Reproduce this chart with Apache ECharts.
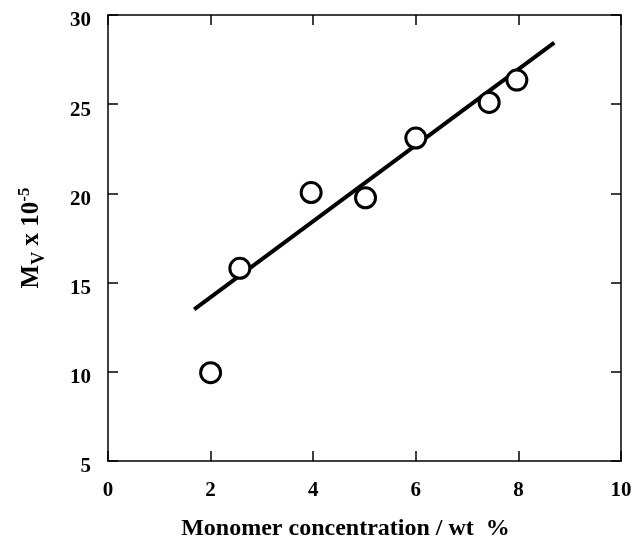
<!DOCTYPE html>
<html>
<head>
<meta charset="utf-8">
<script src="https://cdn.jsdelivr.net/npm/echarts@6/dist/echarts.min.js"></script>
<style>
	html, body { margin: 0; padding: 0; background: #fff; }
	#chart { width: 632px; height: 538px; }
</style>
</head>
<body>
<div id="chart"></div>
<script>
// 测量点 (浓度 wt%, Mv x 10^-5)
var concX = [2.0, 2.57, 3.96, 5.02, 6.0, 7.43, 7.97];
var mvY = [9.95, 15.8, 20.05, 19.75, 23.1, 25.1, 26.35];
// 拟合直线两端
var fitX = [1.68, 8.7];
var fitY = [13.5, 28.45];
// 坐标轴刻度
var xTicks = [0, 2, 4, 6, 8, 10];
var yTicks = [5, 10, 15, 20, 25, 30];

var FONT = 'Liberation Serif';

var points = concX.map(function (x, i) { return [x, mvY[i]]; });
var fitLine = fitX.map(function (x, i) { return [x, fitY[i]]; });

var chart = echarts.init(document.getElementById('chart'));

var axisLine = { show: true, onZero: false, lineStyle: { color: '#000', width: 1.5 } };
var axisTick = { show: true, inside: true, length: 10, lineStyle: { color: '#000', width: 1.5 } };

var option = {
	backgroundColor: '#fff',
	animation: false,
	grid: { left: 108, right: 11, top: 15, bottom: 77, containLabel: false, outerBoundsMode: 'none' },
	xAxis: [{
		type: 'value',
		position: 'bottom',
		min: xTicks[0],
		max: xTicks[xTicks.length - 1],
		interval: 2,
		axisLine: axisLine,
		axisTick: axisTick,
		splitLine: { show: false },
		axisLabel: {
			margin: 19,
			color: '#000',
			fontFamily: FONT,
			fontWeight: 'bold',
			fontSize: 21
		},
		name: 'Monomer concentration / wt  %',
		nameLocation: 'middle',
		nameGap: 56,
		nameTextStyle: {
			color: '#000',
			fontFamily: FONT,
			fontWeight: 'bold',
			fontSize: 24,
			padding: [0, 38, 0, 0]
		}
	}, {
		type: 'value',
		position: 'top',
		min: xTicks[0],
		max: xTicks[xTicks.length - 1],
		interval: 2,
		axisLine: axisLine,
		axisTick: axisTick,
		splitLine: { show: false },
		axisLabel: { show: false }
	}],
	yAxis: [{
		type: 'value',
		position: 'left',
		min: yTicks[0],
		max: yTicks[yTicks.length - 1],
		interval: 5,
		axisLine: axisLine,
		axisTick: axisTick,
		splitLine: { show: false },
		axisLabel: {
			margin: 17,
			color: '#000',
			fontFamily: FONT,
			fontWeight: 'bold',
			fontSize: 21,
			verticalAlign: 'top',
			lineHeight: 12
		},
		name: '{a|M}{b|V}{a| x 10}{c|-5}',
		nameLocation: 'middle',
		nameRotate: 90,
		nameGap: 60,
		nameTextStyle: {
			color: '#000',
			rich: {
				a: { fontFamily: FONT, fontWeight: 'bold', fontSize: 25, lineHeight: 32, color: '#000' },
				b: { fontFamily: FONT, fontWeight: 'bold', fontSize: 18, lineHeight: 18, verticalAlign: 'bottom', color: '#000' },
				c: { fontFamily: FONT, fontWeight: 'bold', fontSize: 17, lineHeight: 17, verticalAlign: 'top', color: '#000' }
			}
		}
	}, {
		type: 'value',
		position: 'right',
		min: yTicks[0],
		max: yTicks[yTicks.length - 1],
		interval: 5,
		axisLine: axisLine,
		axisTick: axisTick,
		splitLine: { show: false },
		axisLabel: { show: false }
	}],
	series: [{
		type: 'line',
		data: fitLine,
		symbol: 'none',
		lineStyle: { color: '#000', width: 4, cap: 'butt' },
		z: 2
	}, {
		type: 'scatter',
		data: points,
		symbol: 'circle',
		symbolSize: 20,
		itemStyle: { color: '#fff', borderColor: '#000', borderWidth: 3, opacity: 1 },
		z: 3
	}]
};

chart.setOption(option);
</script>
</body>
</html>
